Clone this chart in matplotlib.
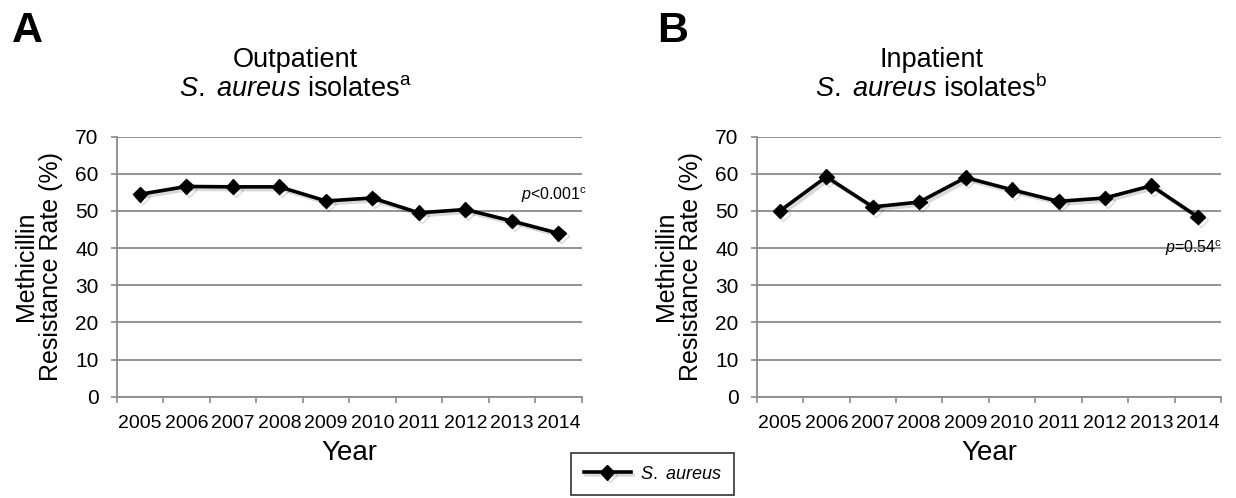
import matplotlib
matplotlib.use("Agg")
import matplotlib.pyplot as plt
import matplotlib.patheffects as pe
from matplotlib.lines import Line2D

plt.rcParams['font.family'] = ['Liberation Sans', 'DejaVu Sans']
plt.rcParams['mathtext.fontset'] = 'custom'
plt.rcParams['mathtext.rm'] = 'Liberation Sans'
plt.rcParams['mathtext.it'] = 'Liberation Sans:italic'

# data
years = ['2005', '2006', '2007', '2008', '2009', '2010', '2011', '2012', '2013', '2014']
outpatient = [54.5, 56.6, 56.5, 56.5, 52.7, 53.5, 49.5, 50.4, 47.3, 44.0]
inpatient = [50.0, 59.2, 51.1, 52.4, 59.0, 55.7, 52.6, 53.5, 56.8, 48.4]
p_outpatient = r"$p$<0.001$^{\mathrm{c}}$"
p_inpatient = r"$p$=0.54$^{\mathrm{c}}$"

grid_col = '#8a8a8a'
shadow = [pe.SimpleLineShadow(offset=(2, -2), shadow_color='k', alpha=0.15), pe.Normal()]

fig = plt.figure(figsize=(12.36, 4.98), dpi=100)
ax_a = fig.add_axes([0.0944, 0.2034, 0.3762, 0.5221])
ax_b = fig.add_axes([0.6122, 0.2034, 0.3757, 0.5221])


def draw_panel(ax, values, ptext, px, py):
    x = list(range(len(years)))
    ax.plot(x, values, color='black', lw=2.6, marker='D', ms=7.5, mew=1,
            zorder=3, path_effects=shadow)
    ax.set_xlim(-0.5, len(years) - 0.5)
    ax.set_ylim(0, 70)
    ax.set_yticks(range(0, 71, 10))
    ax.yaxis.grid(True, color=grid_col, lw=1.3)
    ax.set_axisbelow(True)
    ax.set_xticks(x)
    ax.set_xticklabels(years)
    ax.set_xticks([i - 0.5 for i in range(len(years) + 1)], minor=True)
    ax.tick_params(axis='x', which='major', length=0, pad=13, labelsize=14)
    ax.tick_params(axis='x', which='minor', length=4, width=1.2, color=grid_col)
    ax.tick_params(axis='y', length=4, width=1.2, color=grid_col, pad=9, labelsize=15)
    for s in ['top', 'right']:
        ax.spines[s].set_visible(False)
    for s in ['left', 'bottom']:
        ax.spines[s].set_color(grid_col)
        ax.spines[s].set_linewidth(1.3)
    ax.set_xlabel('Year', fontsize=20, labelpad=6)
    ax.set_ylabel('Methicillin\nResistance Rate (%)', fontsize=18, labelpad=9,
                  linespacing=1.05)
    ax.text(px, py, ptext, ha='right', va='center', fontsize=11.5)


draw_panel(ax_a, outpatient, p_outpatient, 9.62, 54.2)
draw_panel(ax_b, inpatient, p_inpatient, 9.52, 40.0)

# panel titles and letters
title_kw = dict(ha='center', va='center', fontsize=19.5)
fig.text(295 / 1236, 1 - 60 / 498, 'Outpatient', **title_kw)
fig.text(295 / 1236, 1 - 89 / 498, r"$\mathit{S.\ aureus}$ isolates$^{\mathrm{a}}$", **title_kw)
fig.text(931 / 1236, 1 - 60 / 498, 'Inpatient', **title_kw)
fig.text(931 / 1236, 1 - 89 / 498, r"$\mathit{S.\ aureus}$ isolates$^{\mathrm{b}}$", **title_kw)
fig.text(12 / 1236, 1 - 31 / 498, 'A', ha='left', va='center', fontsize=31, fontweight='bold')
fig.text(657 / 1236, 1 - 31 / 498, 'B', ha='left', va='center', fontsize=31, fontweight='bold')

handle = Line2D([], [], color='black', lw=2.6, marker='D', ms=7.5, path_effects=shadow)
leg = fig.legend([handle], [r"$\mathit{S.\ aureus}$"], loc='upper left',
                 bbox_to_anchor=(571 / 1236, 1 - 453 / 498), fontsize=13,
                 frameon=True, fancybox=False, edgecolor='black', borderaxespad=0,
                 handlelength=2.6, handletextpad=0.5, borderpad=0.7)
leg.get_frame().set_linewidth(1.2)

fig.savefig('out.png', dpi=100)
